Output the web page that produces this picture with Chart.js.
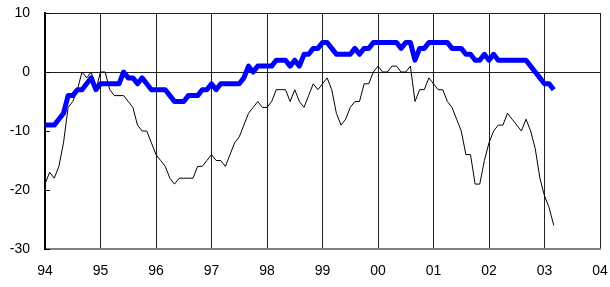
<!DOCTYPE html>
<html>
<head>
<meta charset="utf-8">
<script src="https://cdn.jsdelivr.net/npm/chart.js@4"></script>
<style>
  html, body { margin: 0; padding: 0; background: #fff; }
  #wrap { width: 610px; height: 287px; }
</style>
</head>
<body>
<div id="wrap"><canvas id="chart" width="610" height="287"></canvas></div>
<script>
// monthly values, Jan 94 .. Mar 03
const yearLabels = ['94', '95', '96', '97', '98', '99', '00', '01', '02', '03', '04'];

const blueSeries = [
    -9, -9, -9, -8, -7, -4, -4, -3, -3, -2, -1, -3,
    -2, -2, -2, -2, -2, 0, -1, -1, -2, -1, -2, -3,
    -3, -3, -3, -4, -5, -5, -5, -4, -4, -4, -3, -3,
    -2, -3, -2, -2, -2, -2, -2, -1, 1, 0, 1, 1,
    1, 1, 2, 2, 2, 1, 2, 1, 3, 3, 4, 4,
    5, 5, 4, 3, 3, 3, 3, 4, 3, 4, 4, 5,
    5, 5, 5, 5, 5, 4, 5, 5, 2, 4, 4, 5,
    5, 5, 5, 5, 4, 4, 4, 3, 3, 2, 2, 3,
    2, 3, 2, 2, 2, 2, 2, 2, 2, 1, 0, -1,
    -2, -2, -3
];

const blackSeries = [
    -19, -17, -18, -16, -12, -6, -5, -3, 0, -1, 0, -3,
    0, 0, -3, -4, -4, -4, -5, -6, -9, -10, -10, -12,
    -14, -15, -16, -18, -19, -18, -18, -18, -18, -16, -16, -15,
    -14, -15, -15, -16, -14, -12, -11, -9, -7, -6, -5, -6,
    -6, -5, -3, -3, -3, -5, -3, -5, -6, -4, -2, -3,
    -2, -1, -3, -7, -9, -8, -6, -5, -5, -2, -2, 0,
    1, 0, 0, 1, 1, 0, 0, 1, -5, -3, -3, -1,
    -2, -3, -3, -5, -6, -8, -10, -14, -14, -19, -19, -15,
    -12, -10, -9, -9, -7, -8, -9, -10, -8, -10, -13, -18,
    -21, -23, -26
];

const yTicks = [-30, -20, -10, 0, 10];

function toPoints(arr) {
    return arr.map((v, i) => ({ x: i, y: v }));
}

// short inward tick marks on the left axis
const innerTicks = {
    id: 'innerTicks',
    afterDraw(chart) {
        const ctx = chart.ctx;
        const y = chart.scales.y;
        const left = chart.chartArea.left;
        ctx.save();
        ctx.strokeStyle = '#000';
        ctx.lineWidth = 1;
        yTicks.forEach(v => {
            const py = Math.round(y.getPixelForValue(v)) + 0.5;
            ctx.beginPath();
            ctx.moveTo(left, py);
            ctx.lineTo(left + 5, py);
            ctx.stroke();
        });
        ctx.restore();
    }
};

new Chart(document.getElementById('chart').getContext('2d'), {
    type: 'line',
    data: {
        datasets: [
            {
                data: toPoints(blueSeries),
                borderColor: '#0000ff',
                borderWidth: 5,
                pointRadius: 0,
                tension: 0,
                borderJoinStyle: 'round'
            },
            {
                data: toPoints(blackSeries),
                borderColor: '#000000',
                borderWidth: 1,
                pointRadius: 0,
                tension: 0
            }
        ]
    },
    options: {
        responsive: false,
        animation: false,
        layout: { padding: { top: 13, right: 10, left: 0, bottom: 0 } },
        plugins: {
            legend: { display: false },
            tooltip: { enabled: false }
        },
        scales: {
            x: {
                type: 'linear',
                min: 0,
                max: 120,
                afterFit: s => {
                    s.height = 38;
                    s.paddingLeft = 0;
                    s.paddingRight = 0;
                },
                afterBuildTicks: s => {
                    s.ticks = yearLabels.map((_, i) => ({ value: i * 12 }));
                },
                ticks: {
                    padding: 14,
                    autoSkip: false,
                    maxRotation: 0,
                    color: '#000',
                    font: { family: 'Liberation Sans, Arial', size: 14 },
                    callback: (v) => yearLabels[v / 12]
                },
                grid: {
                    drawTicks: false,
                    color: '#202020',
                    lineWidth: 1
                },
                border: { color: '#808080', width: 2 }
            },
            y: {
                min: -30,
                max: 10,
                afterFit: s => {
                    s.width = 45;
                    s.paddingTop = 0;
                    s.paddingBottom = 0;
                },
                afterBuildTicks: s => {
                    s.ticks = yTicks.map(v => ({ value: v }));
                },
                ticks: {
                    padding: 15,
                    color: '#000',
                    font: { family: 'Liberation Sans, Arial', size: 14 }
                },
                grid: {
                    drawTicks: false,
                    color: c => (c.tick && (c.tick.value === 0 || c.tick.value === 10)) ? '#202020' : 'rgba(0,0,0,0)',
                    lineWidth: 1
                },
                border: { color: '#000', width: 2 }
            }
        }
    },
    plugins: [innerTicks]
});
</script>
</body>
</html>
